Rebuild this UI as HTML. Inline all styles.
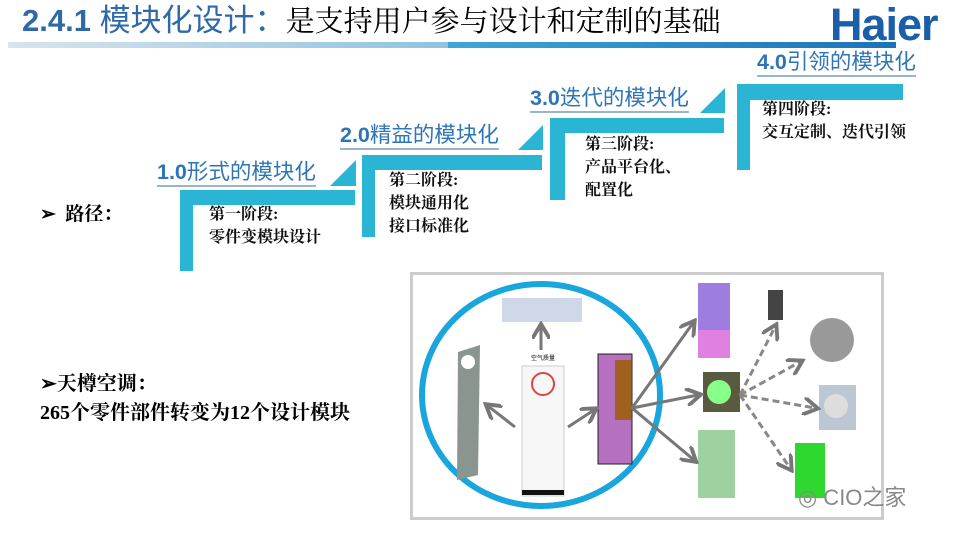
<!DOCTYPE html>
<html><head><meta charset="utf-8"><style>
body{margin:0;width:960px;height:540px;background:#fff;position:relative;overflow:hidden;font-family:"Liberation Serif","Noto Serif CJK SC",serif}
.a{position:absolute;white-space:nowrap}
.b{position:absolute;background:#2bb5d5}
.lbl{position:absolute;font-family:"Liberation Sans","Noto Sans CJK SC",sans-serif;font-weight:bold;color:#2e75b6;font-size:21.5px;white-space:nowrap;border-bottom:2px solid #9ab4cf;line-height:25px}
.t{position:absolute;font-size:16px;font-weight:bold;line-height:23px;color:#111;white-space:nowrap}
</style></head><body>
<div class="a" style="left:22px;top:0px;font-family:'Liberation Sans','Noto Sans CJK SC',sans-serif;font-size:31px;color:#2e6aa8;font-weight:bold;line-height:42px">2.4.1 <span style="font-weight:normal">模块化设计：</span><span style="color:#000;font-size:29px;font-weight:normal;font-family:'Liberation Serif','Noto Serif CJK SC',serif">是支持用户参与设计和定制的基础</span></div>
<div class="a" style="left:830px;top:-3px;font-family:'Liberation Sans',sans-serif;font-weight:bold;font-size:45px;color:#1a5fa8;letter-spacing:-1px;line-height:56px">Haier</div>
<div class="a" style="left:8px;top:42px;width:440px;height:6px;background:linear-gradient(90deg,#d8e4ee,#8fc3e0)"></div>
<div class="a" style="left:448px;top:42px;width:448px;height:6px;background:linear-gradient(90deg,#3ea6d8,#1b73b8)"></div>

<div class="b" style="left:180px;top:190px;width:175px;height:15px"></div>
<div class="b" style="left:180px;top:190px;width:13px;height:81px"></div>
<svg class="a" style="left:330px;top:160px" width="26" height="26"><polygon points="26,0 26,26 0,26" fill="#2bb5d5"/></svg>
<div class="lbl" style="left:157px;top:160px">1.0<span style="font-weight:normal">形式的模块化</span></div>
<div class="t" style="left:209px;top:203px">第一阶段:<br>零件变模块设计</div>

<div class="b" style="left:362px;top:155px;width:180px;height:15px"></div>
<div class="b" style="left:362px;top:155px;width:13px;height:82px"></div>
<svg class="a" style="left:518px;top:125px" width="25" height="25"><polygon points="25,0 25,25 0,25" fill="#2bb5d5"/></svg>
<div class="lbl" style="left:340px;top:123px">2.0<span style="font-weight:normal">精益的模块化</span></div>
<div class="t" style="left:389px;top:169px">第二阶段:<br>模块通用化<br>接口标准化</div>

<div class="b" style="left:550px;top:118px;width:174px;height:15px"></div>
<div class="b" style="left:550px;top:118px;width:15px;height:82px"></div>
<svg class="a" style="left:700px;top:88px" width="25" height="25"><polygon points="25,0 25,25 0,25" fill="#2bb5d5"/></svg>
<div class="lbl" style="left:530px;top:86px">3.0<span style="font-weight:normal">迭代的模块化</span></div>
<div class="t" style="left:585px;top:133px">第三阶段:<br>产品平台化、<br>配置化</div>

<div class="b" style="left:737px;top:84px;width:166px;height:16px"></div>
<div class="b" style="left:737px;top:84px;width:13px;height:86px"></div>
<div class="lbl" style="left:757px;top:50px">4.0<span style="font-weight:normal">引领的模块化</span></div>
<div class="t" style="left:762px;top:98px">第四阶段:<br>交互定制、迭代引领</div>

<div class="a" style="left:40px;top:199px;font-size:19px;font-weight:bold">➢&nbsp; 路径：</div>
<div class="a" style="left:40px;top:370px;font-size:20px;font-weight:bold;line-height:29px">➢天樽空调：<br>265个零件部件转变为12个设计模块</div>

<div class="a" style="left:410px;top:272px;width:468px;height:242px;border:3px solid #ccc;background:#fff"></div>
<svg class="a" style="left:0;top:0" width="960" height="540">
<defs><marker id="m" markerWidth="6" markerHeight="6" refX="4" refY="3" orient="auto"><path d="M0,0L5,3L0,6" fill="none" stroke="#777" stroke-width="1.3"/></marker></defs>
<ellipse cx="541" cy="395" rx="119" ry="111" fill="none" stroke="#19a6dc" stroke-width="6"/>
<rect x="502" y="298" width="80" height="24" fill="#cfd8e6"/>
<rect x="522" y="366" width="42" height="130" fill="#f7f7f7" stroke="#ccc"/>
<rect x="522" y="490" width="42" height="5" fill="#111"/>
<circle cx="543" cy="384" r="11" fill="none" stroke="#d44" stroke-width="2"/>
<text x="531" y="360" font-size="6" font-family="Noto Sans CJK SC,sans-serif">空气质量</text>
<polygon points="458,352 480,345 478,475 457,480" fill="#8b9590"/>
<circle cx="468" cy="362" r="7" fill="#fff"/>
<rect x="598" y="354" width="34" height="110" fill="#b570c0" stroke="#222"/>
<rect x="615" y="360" width="16" height="60" fill="#a06020"/>
<rect x="698" y="283" width="32" height="75" fill="#9d7ee0"/>
<rect x="698" y="330" width="32" height="28" fill="#e080e0"/>
<rect x="703" y="372" width="37" height="40" fill="#5a5a40"/>
<circle cx="719" cy="392" r="12" fill="#8f8"/>
<rect x="698" y="430" width="37" height="68" fill="#9fd0a0"/>
<rect x="768" y="290" width="15" height="30" fill="#444"/>
<circle cx="832" cy="340" r="22" fill="#999"/>
<rect x="819" y="385" width="37" height="45" fill="#bbc8d4"/>
<circle cx="836" cy="406" r="12" fill="#ddd"/>
<rect x="795" y="443" width="30" height="55" fill="#2fd82f"/>
<g stroke="#777" stroke-width="3" fill="none" marker-end="url(#m)">
<line x1="541" y1="350" x2="541" y2="327"/>
<line x1="515" y1="427" x2="488" y2="406"/>
<line x1="568" y1="427" x2="594" y2="410"/>
<line x1="632" y1="408" x2="693" y2="323"/>
<line x1="632" y1="408" x2="698" y2="395"/>
<line x1="632" y1="408" x2="694" y2="460"/>
</g>
<g stroke="#888" stroke-width="3" fill="none" stroke-dasharray="7,4" marker-end="url(#m)">
<line x1="740" y1="395" x2="775" y2="327"/>
<line x1="740" y1="395" x2="800" y2="362"/>
<line x1="740" y1="395" x2="815" y2="408"/>
<line x1="740" y1="395" x2="790" y2="468"/>
</g>
</svg>
<div class="a" style="left:798px;top:480px;font-family:'Liberation Sans',sans-serif;font-size:22px;color:#888">◎ CIO之家</div>
</body></html>
